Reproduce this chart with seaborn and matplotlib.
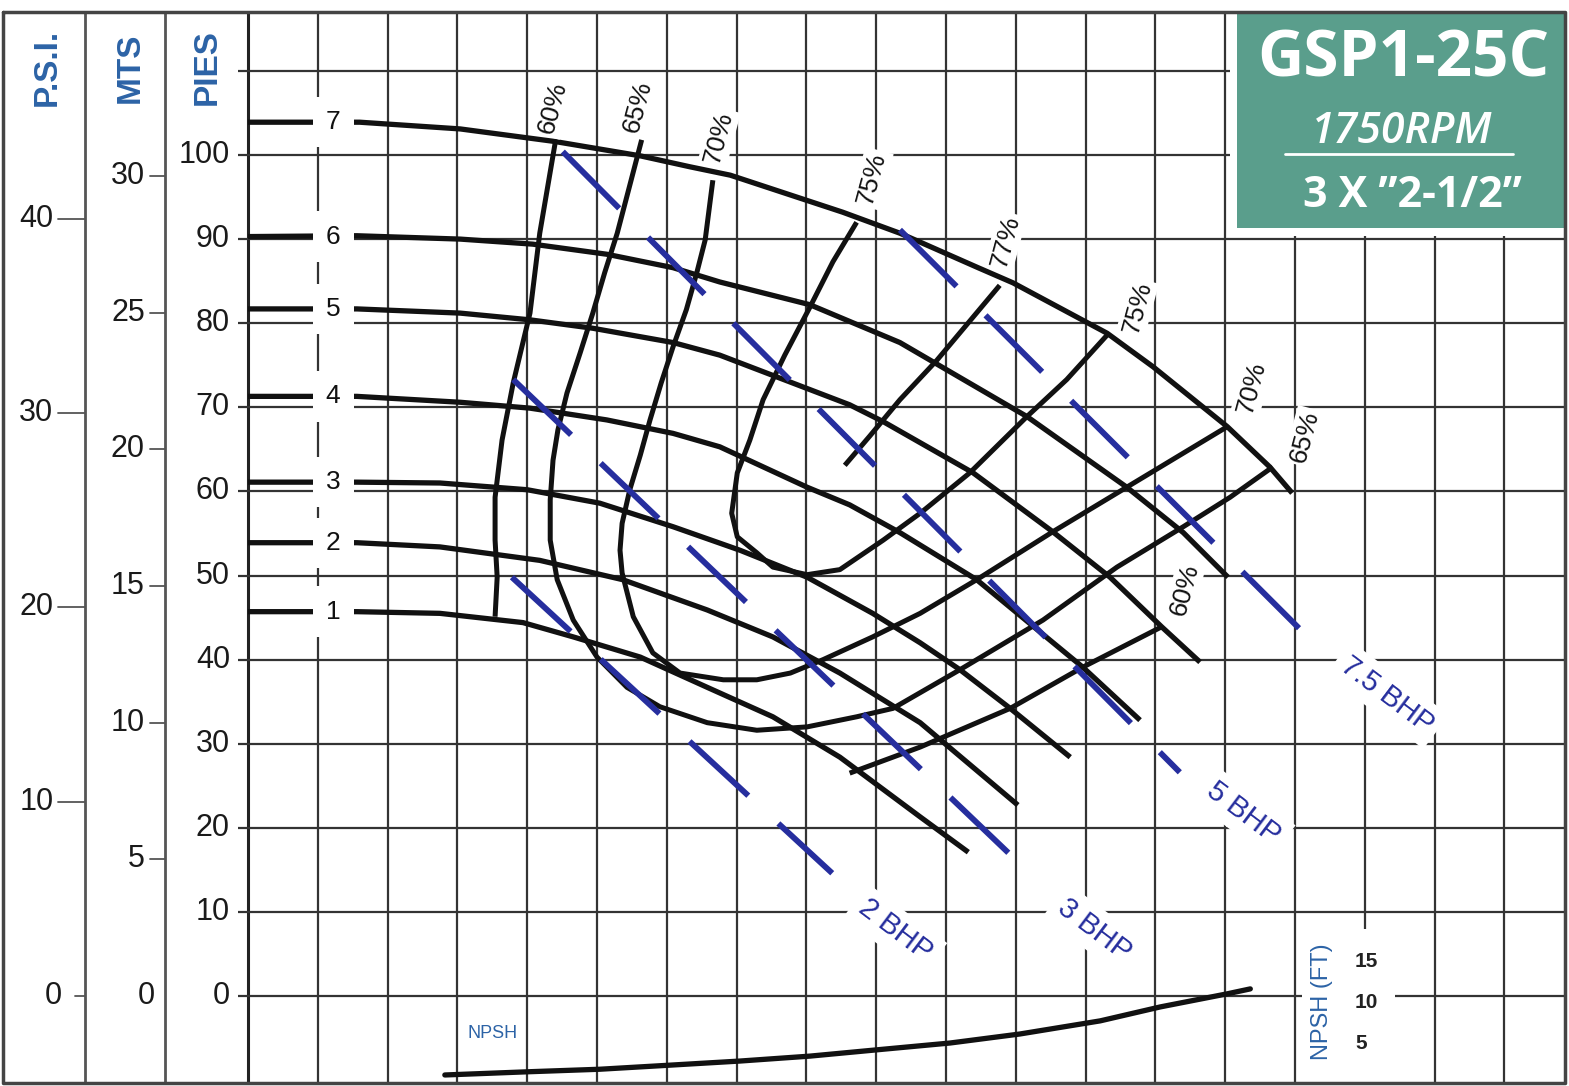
import matplotlib
matplotlib.use("Agg")
import matplotlib.pyplot as plt
import matplotlib.patches as mpatches
import seaborn as sns

sns.set_theme(style="white")
plt.rcParams["font.family"] = ["Liberation Sans", "DejaVu Sans"]
plt.rcParams["lines.scale_dashes"] = False

# ---- data (flow in grid columns, head in ft) ----
# head-capacity curves, impeller 1..7
q1 = [0, 1.56, 2.75, 3.94, 4.66, 5.62, 6.58, 7.52, 8.48, 9.63, 10.32]
h1 = [45.7, 45.7, 45.5, 44.4, 42.7, 40.3, 36.7, 33.2, 28.4, 21.3, 17.1]
q2 = [0, 1.56, 2.75, 4.18, 5.37, 6.58, 7.52, 8.48, 9.63, 11.03]
h2 = [53.9, 53.9, 53.4, 51.8, 49.5, 45.9, 42.7, 38.4, 32.5, 22.7]
q3 = [0, 1.56, 2.75, 4.00, 5.04, 6.09, 7.05, 8.01, 8.95, 9.63, 10.20, 10.92, 11.78]
h3 = [61.1, 61.1, 61.0, 60.2, 58.6, 55.8, 53.0, 49.8, 45.5, 42.0, 38.8, 34.2, 28.4]
q4 = [0, 1.56, 3.04, 4.04, 5.14, 6.09, 6.76, 8.01, 8.62, 9.34, 10.44, 11.96, 12.78]
h4 = [71.3, 71.3, 70.6, 69.9, 68.5, 66.9, 65.3, 60.5, 58.4, 55.1, 49.5, 39.1, 32.8]
q5 = [0, 1.56, 3.04, 4.04, 4.94, 6.09, 6.76, 8.62, 9.10, 10.39, 11.53, 12.35, 13.09, 13.64]
h5 = [81.7, 81.7, 81.2, 80.4, 79.4, 77.7, 76.2, 70.3, 68.3, 62.2, 55.2, 49.8, 43.9, 39.7]
q6 = [0, 1.56, 3.04, 4.08, 5.14, 6.09, 6.76, 8.05, 9.34, 11.16, 12.59, 13.40, 14.04]
h6 = [90.3, 90.4, 90.0, 89.4, 88.2, 86.6, 84.9, 82.2, 77.7, 68.9, 60.5, 55.1, 49.8]
q7 = [0, 1.60, 3.04, 4.40, 5.62, 6.33, 6.91, 8.52, 9.34, 10.46, 10.96, 12.31, 12.97, 14.03, 14.64, 14.96]
h7 = [103.9, 103.9, 103.1, 101.6, 99.9, 98.6, 97.6, 93.2, 90.7, 86.6, 84.8, 78.8, 74.8, 67.7, 62.9, 59.8]

# iso-efficiency curves
e60a_q = [4.40, 4.18, 4.04, 3.80, 3.64, 3.54, 3.54, 3.57, 3.54]
e60a_h = [101.4, 90.7, 81.2, 72.9, 66.1, 59.3, 54.2, 49.8, 45.1]
e60b_q = [8.62, 9.63, 10.92, 11.96, 13.09]
e60b_h = [26.5, 29.6, 34.2, 39.1, 43.9]
e65_q = [5.64, 5.47, 5.29, 5.11, 4.94, 4.76, 4.57, 4.44, 4.37, 4.33, 4.33, 4.43, 4.66, 5.00,
         5.43, 5.90, 6.58, 7.29, 8.01, 8.72, 9.24, 10.20, 11.39, 12.45, 13.40, 14.07, 14.68]
e65_h = [101.8, 96.4, 90.7, 86.0, 81.2, 76.5, 71.7, 67.3, 63.7, 59.0, 54.2, 49.5, 44.7, 40.3,
         36.7, 34.4, 32.5, 31.6, 32.0, 33.2, 34.2, 38.8, 44.7, 51.0, 55.8, 59.3, 62.9]
e70_q = [6.66, 6.55, 6.43, 6.28, 6.09, 5.92, 5.76, 5.62, 5.47, 5.36, 5.33, 5.36, 5.52, 5.80,
         6.19, 6.81, 7.29, 7.77, 8.24, 8.95, 9.63, 10.44, 11.53, 12.59, 13.35, 14.03]
e70_h = [97.0, 89.9, 86.0, 81.6, 77.2, 72.9, 68.5, 64.3, 60.2, 56.2, 53.0, 50.3, 45.1, 40.8,
         38.4, 37.6, 37.6, 38.4, 40.0, 42.7, 45.5, 49.5, 55.2, 60.5, 64.3, 67.7]
e75_q = [8.72, 8.38, 8.05, 7.69, 7.38, 7.19, 7.01, 6.93, 7.01, 7.29, 7.52, 8.01, 8.48, 9.10,
         9.63, 10.34, 11.16, 11.73, 12.31]
e75_h = [92.0, 87.3, 81.9, 76.2, 70.9, 66.1, 62.2, 57.4, 54.6, 52.7, 51.0, 50.1, 50.7, 54.2,
         57.4, 62.2, 68.9, 73.3, 78.6]
e77_q = [8.55, 8.91, 9.34, 9.87, 10.77]
e77_h = [63.1, 66.6, 70.9, 75.6, 84.5]

eff_labels = ["60%", "65%", "70%", "75%", "77%", "75%", "70%", "65%", "60%"]
eff_label_q = [4.37, 5.59, 6.75, 8.94, 10.85, 12.74, 14.38, 15.14, 13.42]
eff_label_h = [105.6, 105.8, 102.1, 97.2, 89.7, 81.8, 72.3, 66.5, 48.3]

# brake horsepower lines
bhp_names = ["2 BHP", "3 BHP", "5 BHP", "7.5 BHP"]
bhp_q = [[3.78, 8.37], [3.80, 10.96], [4.51, 13.35], [9.34, 15.11]]
bhp_h = [[49.8, 14.6], [73.3, 16.5], [100.4, 26.6], [91.1, 43.3]]
bhp_label_q = [9.27, 12.13, 14.26, 16.32]
bhp_label_h = [7.8, 7.9, 21.8, 35.8]

# NPSH required (ft)
npsh_q = [2.82, 4.04, 5.04, 6.05, 7.05, 8.05, 9.05, 10.06, 11.06, 12.21, 13.07, 14.03, 14.36]
npsh_ft = [1.1, 1.5, 1.8, 2.3, 2.8, 3.4, 4.2, 5.0, 6.1, 7.7, 9.4, 11.0, 11.6]

psi_ticks = [0, 10, 20, 30, 40]
mts_ticks = [0, 5, 10, 15, 20, 25, 30]
pies_ticks = [0, 10, 20, 30, 40, 50, 60, 70, 80, 90, 100]
npsh_ticks = [5, 10, 15]

INK = "#111111"
GRID = "#333333"
BHP_BLUE = "#262e9e"
AXIS_BLUE = "#2c63a6"
TEAL = "#5a9e8c"

fig = plt.figure(figsize=(15.69, 10.86), dpi=100)
ax = fig.add_axes([0, 0, 1, 1])
ax.set_xlim(-3.553, 18.926)
ax.set_ylim(-10.70, 118.43)
ax.axis("off")

LEFT, RIGHT, TOP, BOTTOM = -3.51, 18.87, 117.0, -10.34
PSI_X, MTS_X = -2.335, -1.189

# grid
ax.vlines(range(1, 19), BOTTOM, TOP, color=GRID, lw=1.6, zorder=1)
ax.vlines(0, BOTTOM, TOP, color="#222222", lw=2.2, zorder=1)
ax.hlines(range(0, 111, 10), -0.143, RIGHT, color=GRID, lw=1.6, zorder=1)
ax.vlines([PSI_X, MTS_X], BOTTOM, TOP, color="#555555", lw=2, zorder=1)

# left scales
tick_font = dict(fontsize=22, color="#1a1a1a")
for v in psi_ticks:
    y = v * 2.31
    ax.plot([-2.72 if v else -2.48, PSI_X], [y, y], color="#555555", lw=1.3)
    ax.text(-2.79 if v else -2.66, y, str(v), ha="right", va="center", **tick_font)
for v in mts_ticks:
    y = v * 3.25
    if v:
        ax.plot([-1.404, MTS_X], [y, y], color="#555555", lw=1.3)
    ax.text(-1.476 if v else -1.33, y, str(v), ha="right", va="center", **tick_font)
for v in pies_ticks:
    ax.text(-0.258, v, str(v), ha="right", va="center", **tick_font)

for name, xc in [("P.S.I.", -2.88), ("MTS", -1.68), ("PIES", -0.59)]:
    ax.text(xc, 110.4, name, rotation=90, ha="center", va="center", fontsize=24,
            fontweight="bold", color=AXIS_BLUE)

# head curves
heads = [(q1, h1), (q2, h2), (q3, h3), (q4, h4), (q5, h5), (q6, h6), (q7, h7)]
for i, (q, h) in enumerate(heads):
    sns.lineplot(x=q, y=h, sort=False, estimator=None, color=INK, linewidth=3.8,
                 ax=ax, zorder=3, solid_capstyle="butt")
    ax.text(1.22, h[0], str(i + 1), ha="center", va="center", fontsize=19, color=INK, zorder=6,
            bbox=dict(boxstyle="square,pad=0.5", fc="white", ec="none"))

# efficiency curves
for q, h in [(e60a_q, e60a_h), (e60b_q, e60b_h), (e65_q, e65_h), (e70_q, e70_h),
             (e75_q, e75_h), (e77_q, e77_h)]:
    sns.lineplot(x=q, y=h, sort=False, estimator=None, color=INK, linewidth=3.6,
                 ax=ax, zorder=3, solid_capstyle="butt")
for t, q, h in zip(eff_labels, eff_label_q, eff_label_h):
    ax.text(q, h, t, rotation=75, ha="center", va="center", fontsize=19, color=INK, zorder=6,
            bbox=dict(boxstyle="square,pad=0.1", fc="white", ec="none"))

# BHP lines
for name, q, h, lq, lh in zip(bhp_names, bhp_q, bhp_h, bhp_label_q, bhp_label_h):
    sns.lineplot(x=q, y=h, sort=False, estimator=None, color=BHP_BLUE, linewidth=4.2,
                 ax=ax, zorder=4, linestyle=(0, (57.6, 29.5)), dash_capstyle="butt")
    ax.text(lq, lh, name, rotation=-37, ha="center", va="center", fontsize=21,
            color=BHP_BLUE, zorder=6,
            bbox=dict(boxstyle="square,pad=0.25", fc="white", ec="none"))

# NPSH curve on its own scale
ax2 = ax.twinx()
ax2.set_ylim(-0.244, 132.2)
ax2.axis("off")
sns.lineplot(x=npsh_q, y=npsh_ft, sort=False, estimator=None, color=INK, linewidth=3.8,
             ax=ax2, zorder=3)
ax.add_patch(mpatches.Rectangle((15.10, -10.2), 1.33, 18.2, fc="white", ec="none", zorder=2))
for v in npsh_ticks:
    ax2.text(15.86, v, str(v), ha="left", va="center", fontsize=15, fontweight="bold",
             color="#222222", zorder=6)
ax2.text(15.39, 10.0, "NPSH (FT)", rotation=90, ha="center", va="center", fontsize=17,
         color=AXIS_BLUE, zorder=6)
ax.text(3.51, -4.4, "NPSH", ha="center", va="center", fontsize=13, color=AXIS_BLUE)

# title block
ax.add_patch(mpatches.Rectangle((14.07, 90.4), RIGHT - 14.07, TOP - 90.4, fc="white",
                                ec="none", zorder=5))
ax.add_patch(mpatches.Rectangle((14.17, 91.3), RIGHT - 14.17, 116.8 - 91.3, fc=TEAL,
                                ec="none", zorder=5))
ax.text(16.56, 111.3, "GSP1-25C", ha="center", va="center", fontsize=46, fontweight="bold",
        color="white", family="Open Sans", zorder=7)
ax.text(16.53, 102.8, "1750RPM", ha="center", va="center", fontsize=31, style="italic",
        fontweight="semibold", color="white", family="Open Sans", zorder=7)
ax.plot([14.86, 18.12], [100.1, 100.1], color="white", lw=2, zorder=7)
ax.text(16.68, 95.2, "3 X \u201d2-1/2\u201d", ha="center", va="center", fontsize=31,
        fontweight="bold", color="white", family="Open Sans", zorder=7)

# outer frame
ax.plot([LEFT, RIGHT, RIGHT, LEFT, LEFT], [TOP, TOP, BOTTOM, BOTTOM, TOP], color="#444444",
        lw=2.5, zorder=8)

fig.savefig("out.png", dpi=100)
